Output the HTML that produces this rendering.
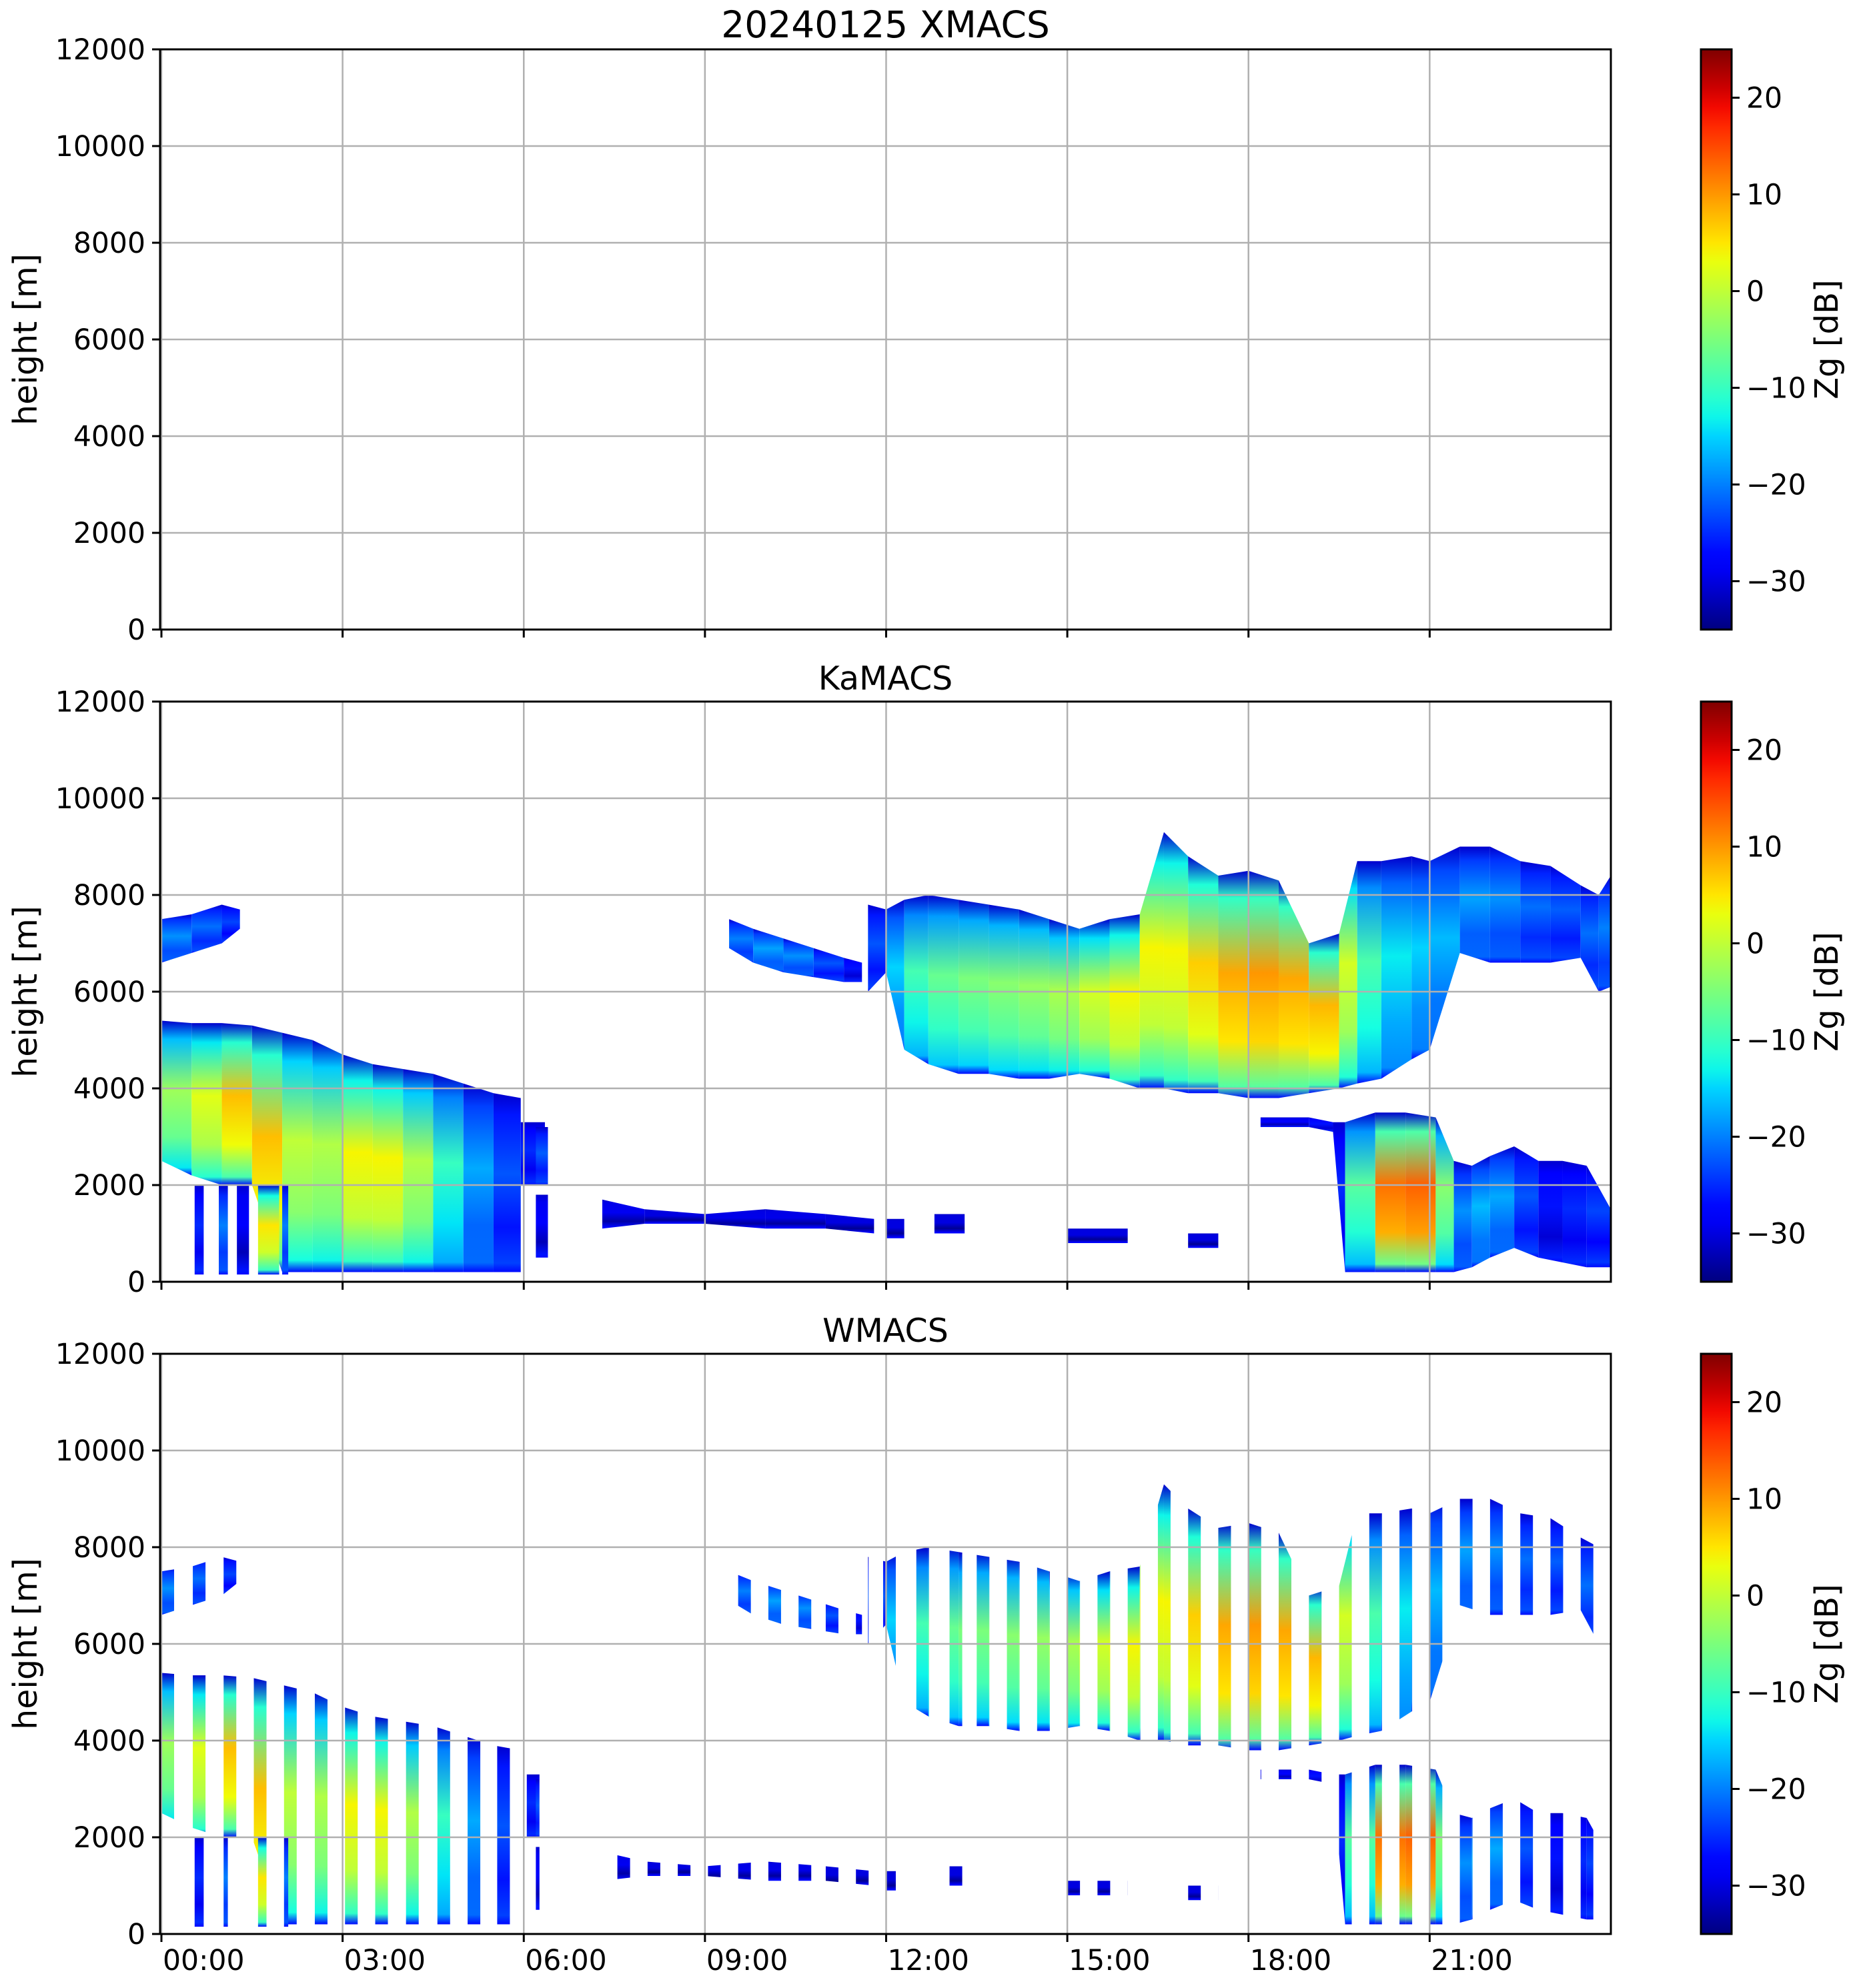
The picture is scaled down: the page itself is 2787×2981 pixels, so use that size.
<!DOCTYPE html>
<html><head><meta charset="utf-8"><style>
html,body{margin:0;padding:0;background:#fff}
svg{display:block}
text{font-family:"DejaVu Sans","Liberation Sans",sans-serif;fill:#000}
</style></head><body>
<svg id="fig" xmlns="http://www.w3.org/2000/svg" width="2787" height="2981" viewBox="0 0 2787 2981">
<defs id="defs"></defs>
</svg>
<script>
// ---- data (hours, meters, dBZ) ----
const xTickHours=[0,3,6,9,12,15,18,21];
const xTickLabels=["00:00","03:00","06:00","09:00","12:00","15:00","18:00","21:00"];
const yTicks=[0,2000,4000,6000,8000,10000,12000];
const cbTicks=[-30,-20,-10,0,10,20];
const panelTitles=["20240125 XMACS","KaMACS","WMACS"];

// layer: early upper small cloud
const kaL1T=[0,0.5,1.0,1.3];
const kaL1Top=[7500,7600,7800,7700];
const kaL1Base=[6600,6800,7000,7300];
const kaL1Z=[-18,-20,-22,-25];
// early main cloud
const kaL2T=[0,0.5,1,1.5,2,2.5,3,3.5,4,4.5,5,5.5,5.95];
const kaL2Top=[5400,5350,5350,5300,5150,5000,4700,4500,4400,4300,4100,3900,3800];
const kaL2Base=[2500,2200,2000,2000,200,200,200,200,200,200,200,200,200];
const kaL2Z=[-5,0,5,10,5,-5,3,5,3,-5,-15,-20,-25];
// mid-morning upper sloping cloud
const kaL3T=[9.4,9.8,10.3,10.8,11.3,11.6];
const kaL3Top=[7500,7300,7100,6900,6700,6600];
const kaL3Base=[6900,6600,6400,6300,6200,6200];
const kaL3Z=[-22,-18,-18,-20,-25,-28];
// afternoon main cloud
const kaL4T=[11.7,12.0,12.3,12.7,13.2,13.7,14.2,14.7,15.2,15.7,16.2,16.6,17.0,17.5,18.0,18.5,19.0,19.5,19.8,20.2,20.7];
const kaL4Top=[7800,7700,7900,8000,7900,7800,7700,7500,7300,7500,7600,9300,8800,8400,8500,8300,7000,7200,8700,8700,8800];
const kaL4Base=[6000,6400,4800,4500,4300,4300,4200,4200,4300,4200,4000,4000,3900,3900,3800,3800,3900,4000,4100,4200,4600];
const kaL4Z=[-25,-20,-10,-8,-5,-5,-3,-3,0,3,5,3,5,8,10,10,8,8,-5,-12,-15];
// late upper cloud
const kaL5T=[20.7,21.0,21.5,22,22.5,23,23.5,23.8,24.1];
const kaL5Top=[8800,8700,9000,9000,8700,8600,8200,8000,8400];
const kaL5Base=[4600,4800,6800,6600,6600,6600,6700,6000,6100];
const kaL5Z=[-15,-15,-18,-18,-20,-22,-22,-20,-20];
// late lower cloud
const kaL6T=[18.2,19.0,19.4,19.6,20.1,20.6,21.1,21.4,21.7,22.0,22.4,22.8,23.2,23.6,24.1];
const kaL6Top=[3400,3400,3300,3300,3500,3500,3400,2500,2400,2600,2800,2500,2500,2400,1500];
const kaL6Base=[3200,3200,3100,200,200,200,200,200,300,500,700,500,400,300,300];
const kaL6Z=[-28,-28,-25,-25,10,15,12,-20,-18,-15,-20,-25,-28,-22,-25];
// morning low band
const kaL7T=[7.3,8.0,9.0,10.0,11.0,11.8];
const kaL7Top=[1700,1500,1400,1500,1400,1300];
const kaL7Base=[1100,1200,1200,1100,1100,1000];
const kaL7Z=[-28,-30,-30,-29,-30,-30];
// small blobs / streaks
const blobT0=[0.55,0.95,1.25,1.6,2.0,5.95,6.2,12.0,12.8,15.0,17.0,6.2];
const blobT1=[0.7,1.1,1.45,1.95,2.1,6.35,6.4,12.3,13.3,16.0,17.5,6.4];
const blobBase=[150,150,150,150,150,2000,500,900,1000,800,700,2000];
const blobTop=[2000,2000,2000,2000,2000,3300,1800,1300,1400,1100,1000,3200];
const blobZ=[-25,-20,-28,5,-20,-25,-28,-30,-30,-30,-30,-22];
// W-band sampling stripes (start hour)
const wStripes=[0.0,0.52,1.03,1.53,2.03,2.54,3.04,3.54,4.05,4.57,5.07,5.56,6.05,6.55,7.05,7.55,8.05,8.55,9.05,9.55,10.05,10.55,11.0,11.5,11.95,12.5,13.05,13.5,14.0,14.5,15.0,15.5,16.0,16.5,17.0,17.5,18.0,18.5,19.0,19.5,20.0,20.5,21.0,21.5,22.0,22.5,23.0,23.5];
const wStripeWidth=0.21;
</script>
<script>
const NS="http://www.w3.org/2000/svg";
const svg=document.getElementById('fig');
const defs=document.getElementById('defs');
const L=240,R=2415,PH=870;
const tops=[74,1052,2030];
function X(t){return 242+t*90.54;}
function clampX(x){return Math.max(L,Math.min(R,x));}
function mk(tag,attrs,parent){const e=document.createElementNS(NS,tag);for(const k in attrs)e.setAttribute(k,attrs[k]);(parent||svg).appendChild(e);return e;}
function interp(pts,v){if(v<=pts[0][0])return pts[0][1];for(let i=1;i<pts.length;i++){if(v<=pts[i][0]){const a=pts[i-1],b=pts[i];return a[1]+(b[1]-a[1])*(v-a[0])/(b[0]-a[0]);}}return pts[pts.length-1][1];}
function jet(z){let v=(z+35)/60;v=Math.max(0,Math.min(1,v));
const r=interp([[0,0],[0.35,0],[0.66,1],[0.89,1],[1,0.5]],v);
const g=interp([[0,0],[0.125,0],[0.375,1],[0.64,1],[0.91,0],[1,0]],v);
const b=interp([[0,0.5],[0.11,1],[0.34,1],[0.65,0],[1,0]],v);
return `rgb(${Math.round(r*255)},${Math.round(g*255)},${Math.round(b*255)})`;}
let gid=0;
function grad(core){const id='g'+(gid++);const lg=mk('linearGradient',{id:id,x1:0,y1:0,x2:0,y2:1},defs);
const stops=[[0,-31],[0.12,(core-30)/2],[0.45,core],[0.75,core-4],[0.95,(core-25)/2],[1,-27]];
stops.forEach(s=>mk('stop',{offset:s[0],'stop-color':jet(s[1])},lg));return id;}

const layers=[[kaL1T,kaL1Top,kaL1Base,kaL1Z],[kaL2T,kaL2Top,kaL2Base,kaL2Z],[kaL3T,kaL3Top,kaL3Base,kaL3Z],[kaL4T,kaL4Top,kaL4Base,kaL4Z],[kaL5T,kaL5Top,kaL5Base,kaL5Z],[kaL6T,kaL6Top,kaL6Base,kaL6Z],[kaL7T,kaL7Top,kaL7Base,kaL7Z]];

function drawClouds(parent,top){
  const bot=top+PH;const Y=h=>bot-h*PH/12000;
  layers.forEach((ly,li)=>{const [T,Tp,Bs,Z]=ly;
    for(let i=0;i<T.length-1;i++){
      const core=(Z[i]+Z[i+1])/2;const id=grad(core);
      const x0=clampX(X(T[i])),x1=clampX(X(T[i+1]));
      const p=mk('polygon',{points:`${x0},${Y(Tp[i])} ${x1},${Y(Tp[i+1])} ${x1},${Y(Bs[i+1])} ${x0},${Y(Bs[i])}`,fill:`url(#${id})`},parent);
      
      
    }});
  for(let i=0;i<blobT0.length;i++){
    const id=grad(blobZ[i]);
    const r=mk('rect',{x:X(blobT0[i]),y:Y(blobTop[i]),width:X(blobT1[i])-X(blobT0[i]),height:Y(blobBase[i])-Y(blobTop[i]),fill:`url(#${id})`},parent);
    
    
  }
}

tops.forEach((top,pi)=>{
  const bot=top+PH;const Y=h=>bot-h*PH/12000;
  const g=mk('g',{});
  
  
  const cid='clip'+pi;const cp=mk('clipPath',{id:cid},defs);
  if(pi===2){wStripes.forEach(s=>mk('rect',{x:X(s),y:top,width:wStripeWidth*90.54,height:PH},cp));}
  else mk('rect',{x:L,y:top,width:R-L,height:PH},cp);
  if(pi>0){const dg=mk('g',{'clip-path':`url(#${cid})`},g);
    
    
    drawClouds(dg,top);}
  xTickHours.forEach(h=>{const l=mk('line',{x1:X(h),x2:X(h),y1:top,y2:bot,stroke:'#b0b0b0','stroke-width':2.5},g);
    });
  yTicks.forEach(v=>{const l=mk('line',{x1:L,x2:R,y1:Y(v),y2:Y(v),stroke:'#b0b0b0','stroke-width':2.5},g);
    });
  const fr=mk('rect',{x:L,y:top,width:R-L,height:PH,fill:'none',stroke:'#000','stroke-width':3},g);
  
  xTickHours.forEach((h,i)=>{mk('line',{x1:X(h),x2:X(h),y1:bot,y2:bot+12,stroke:'#000','stroke-width':3},g);
    if(pi===2){const t=mk('text',{x:X(h)+2,y:2954,'font-size':42.5},g);t.textContent=xTickLabels[i];
      }});
  yTicks.forEach(v=>{mk('line',{x1:L-12,x2:L,y1:Y(v),y2:Y(v),stroke:'#000','stroke-width':3},g);
    const t=mk('text',{x:218,y:Y(v)+15,'font-size':42.5,'text-anchor':'end'},g);t.textContent=v;
    });
  const yl=mk('text',{x:0,y:0,'font-size':49,'text-anchor':'middle',transform:`translate(55,${top+PH/2}) rotate(-90)`},g);
  yl.textContent='height [m]';
  const tt=mk('text',{x:(L+R)/2,y:top-18,'font-size':pi===0?55:49,'text-anchor':'middle'},g);
  tt.textContent=panelTitles[pi];
  const cbg='cb'+pi;const lg=mk('linearGradient',{id:cbg,x1:0,y1:1,x2:0,y2:0},defs);
  for(let k=0;k<=30;k++){const z=-35+60*k/30;mk('stop',{offset:k/30,'stop-color':jet(z)},lg);}
  const cb=mk('rect',{x:2550,y:top,width:46,height:PH,fill:`url(#${cbg})`,stroke:'#000','stroke-width':3},g);
  
  cbTicks.forEach(z=>{const y=bot-(z+35)/60*PH;
    mk('line',{x1:2596,x2:2608,y1:y,y2:y,stroke:'#000','stroke-width':3},g);
    const t=mk('text',{x:2618,y:y+15,'font-size':42.5},g);t.textContent=(z<0?'\u2212'+(-z):String(z));
    });
  const cl=mk('text',{x:0,y:0,'font-size':48,'text-anchor':'middle',transform:`translate(2755,${top+PH/2}) rotate(-90)`},g);
  cl.textContent='Zg [dB]';
});
</script>
</body></html>
